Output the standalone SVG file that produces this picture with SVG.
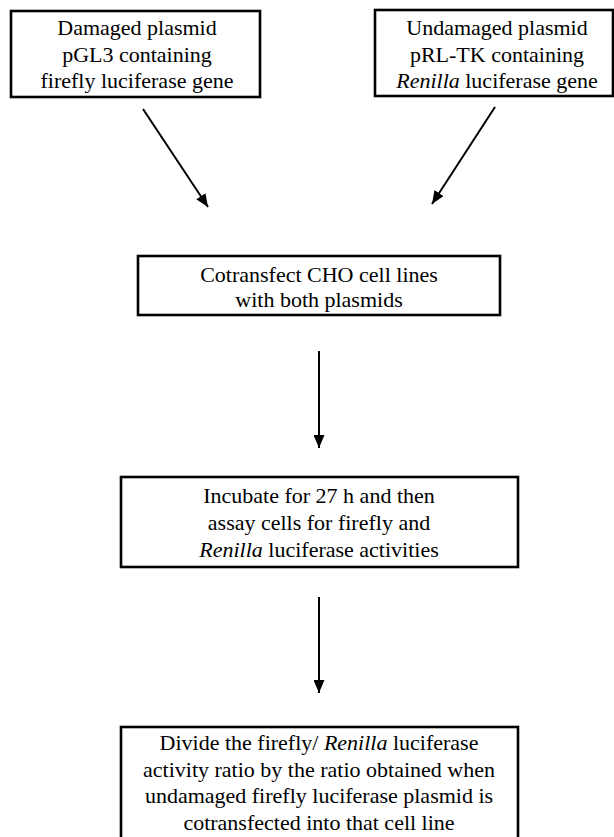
<svg xmlns="http://www.w3.org/2000/svg" width="614" height="837" viewBox="0 0 614 837">
<defs>
<marker id="ah" viewBox="0 0 13 11" refX="13" refY="5.5" markerWidth="13" markerHeight="11" markerUnits="userSpaceOnUse" orient="auto">
<path d="M0,0 L13,5.5 L0,11 Z" fill="#000"/>
</marker>
<style>
.box{fill:#fff;stroke:#000;stroke-width:2.6}
.t{font-family:"Liberation Serif","Times New Roman",serif;font-size:22px;fill:#000;text-anchor:middle}
.i{font-style:italic}
.c{stroke:#000;stroke-width:2;fill:none;marker-end:url(#ah)}
</style>
</defs>
<rect width="614" height="837" fill="#fff"/>
<g id="connectors">
<line class="c" x1="143" y1="109" x2="208" y2="207"/>
<line class="c" x1="495" y1="107" x2="432" y2="204"/>
<line class="c" x1="319" y1="351" x2="319" y2="448"/>
<line class="c" x1="319" y1="597" x2="319" y2="693"/>
</g>
<g id="n1">
<rect class="box" x="11" y="11" width="249" height="86"/>
<text class="t" x="137" y="35">Damaged plasmid</text>
<text class="t" x="137" y="62">pGL3 containing</text>
<text class="t" x="137" y="88">firefly luciferase gene</text>
</g>
<g id="n2">
<rect class="box" x="375" y="10" width="238" height="86"/>
<text class="t" x="497" y="35">Undamaged plasmid</text>
<text class="t" x="497" y="62">pRL-TK containing</text>
<text class="t" x="497" y="88"><tspan class="i">Renilla</tspan> luciferase gene</text>
</g>
<g id="n3">
<rect class="box" x="138" y="256" width="362" height="59"/>
<text class="t" x="319" y="282">Cotransfect CHO cell lines</text>
<text class="t" x="319" y="307">with both plasmids</text>
</g>
<g id="n4">
<rect class="box" x="121" y="477" width="397" height="90"/>
<text class="t" x="319" y="503">Incubate for 27 h and then</text>
<text class="t" x="319" y="530">assay cells for firefly and</text>
<text class="t" x="319" y="557"><tspan class="i">Renilla</tspan> luciferase activities</text>
</g>
<g id="n5">
<rect class="box" x="121" y="727" width="397" height="120"/>
<text class="t" x="319" y="750">Divide the firefly/ <tspan class="i">Renilla</tspan> luciferase</text>
<text class="t" x="319" y="777">activity ratio by the ratio obtained when</text>
<text class="t" x="319" y="803">undamaged firefly luciferase plasmid is</text>
<text class="t" x="319" y="830">cotransfected into that cell line</text>
</g>
</svg>
